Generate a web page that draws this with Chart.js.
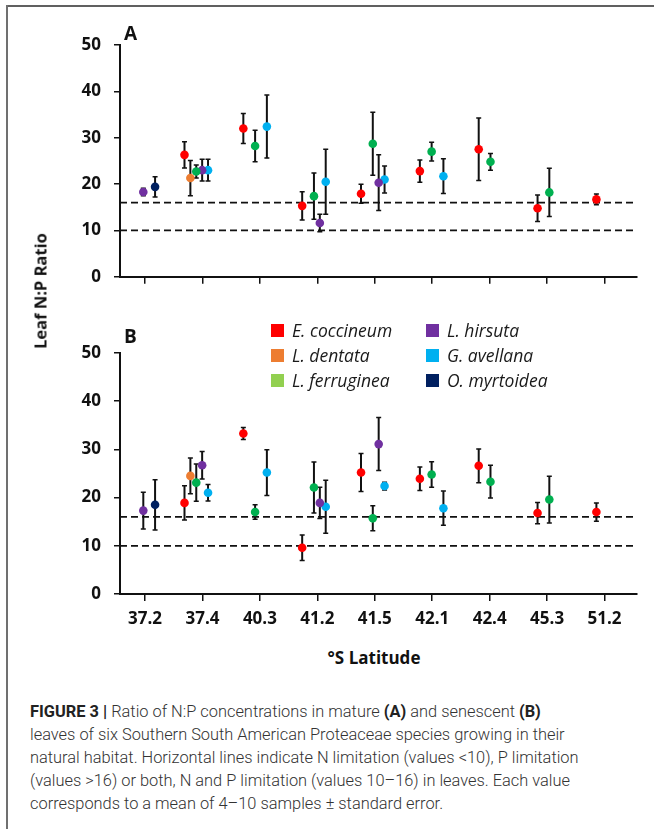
<!DOCTYPE html>
<html>
<head>
<meta charset="utf-8">
<script src="https://cdn.jsdelivr.net/npm/chart.js@4.4.1/dist/chart.umd.min.js"></script>
<style>
  body { margin: 0; background: #fff; }
  #fig { position: relative; width: 654px; height: 829px; overflow: hidden; background: #fff; }
  .frame-top { position: absolute; left: 6px; right: 0; top: 5px; border-top: 2px solid #606060; }
  .frame-left { position: absolute; left: 6px; top: 5px; bottom: 0; border-left: 2px solid #707070; }
  .wrap { position: absolute; left: 0; width: 654px; }
  #wrapA { top: 0; height: 300px; }
  #wrapB { top: 300px; height: 330px; }
  .panel { position: absolute; font: 700 19px "Open Sans", sans-serif; line-height: 20px; color: #111; }
  #ytitle { position: absolute; left: 40px; top: 291px; transform: translate(-50%, -50%) rotate(-90deg);
            font: 700 16.5px "Open Sans", sans-serif; white-space: nowrap; color: #111; }
  #xtitle { position: absolute; left: 374px; top: 657px; transform: translate(-50%, -50%);
            font: 700 17px "Open Sans", sans-serif; white-space: nowrap; color: #111; }
  .lg-box { position: absolute; width: 13px; height: 13px; }
  .lg-text { position: absolute; font: italic 17.5px "Open Sans", sans-serif; line-height: 22px; color: #1a1a1a; white-space: nowrap; }
  #caption { position: absolute; left: 30px; top: 700px; font: 300 16.4px Roboto, sans-serif; line-height: 23px;
             color: #333; white-space: nowrap; }
  #caption b { font-weight: 700; color: #222; }
</style>
</head>
<body>
<div id="fig">
  <div class="frame-top"></div>
  <div class="frame-left"></div>
  <div class="wrap" id="wrapA"><canvas id="chartA" width="654" height="300"></canvas></div>
  <div class="wrap" id="wrapB"><canvas id="chartB" width="654" height="330"></canvas></div>
  <div class="panel" style="left:124px; top:23px;">A</div>
  <div class="panel" style="left:124px; top:326px;">B</div>
  <div id="ytitle">Leaf N:P Ratio</div>
  <div id="xtitle">°S Latitude</div>
  <div id="legend"></div>
  <div id="caption">
    <b>FIGURE 3 |</b> Ratio of N:P concentrations in mature <b>(A)</b> and senescent <b>(B)</b><br>
    leaves of six Southern South American Proteaceae species growing in their<br>
    natural habitat. Horizontal lines indicate N limitation (values &lt;10), P limitation<br>
    (values &gt;16) or both, N and P limitation (values 10–16) in leaves. Each value<br>
    corresponds to a mean of 4–10 samples ± standard error.
  </div>
</div>

<script>
// 緯度（カテゴリ）
const latitudes = ['37.2', '37.4', '40.3', '41.2', '41.5', '42.1', '42.4', '45.3', '51.2'];

const species = ['E. coccineum', 'L. dentata', 'L. ferruginea', 'L. hirsuta', 'G. avellana', 'O. myrtoidea'];
const dotColors = ['#ff0000', '#ed7d31', '#00b050', '#7030a0', '#00b0f0', '#002060'];
const legendColors = ['#ff0000', '#ed7d31', '#92d050', '#7030a0', '#00b0f0', '#002060'];
// 種ごとの横ずらし（カテゴリ単位）
const speciesOffset = [-0.3, -0.2, -0.1, 0, 0.1, 0.2];

// 制限ライン
const limitLines = [10, 16];

// A: 成熟葉 (平均 / 標準誤差)
const matureCoccineum    = [null, 26.3, 32.0, 15.3, 17.9, 22.8, 27.5, 14.8, 16.7];
const matureCoccineumSE  = [null, 2.85, 3.25, 3.05, 2.05, 2.4, 6.75, 2.85, 1.15];
const matureDentata      = [null, 21.3, null, null, null, null, null, null, null];
const matureDentataSE    = [null, 3.8, null, null, null, null, null, null, null];
const matureFerruginea   = [null, 22.7, 28.2, 17.4, 28.7, 27.0, 24.8, 18.2, null];
const matureFerrugineaSE = [null, 1.4, 3.4, 5.0, 6.8, 2.0, 1.8, 5.2, null];
const matureHirsuta      = [18.3, 23.0, null, 11.6, 20.3, null, null, null, null];
const matureHirsutaSE    = [0.8, 2.35, null, 1.9, 6.0, null, null, null, null];
const matureAvellana     = [null, 23.0, 32.4, 20.5, 21.0, 21.7, null, null, null];
const matureAvellanaSE   = [null, 2.35, 6.8, 7.0, 2.9, 3.75, null, null, null];
const matureMyrtoidea    = [19.4, null, null, null, null, null, null, null, null];
const matureMyrtoideaSE  = [2.2, null, null, null, null, null, null, null, null];

// B: 老化葉 (平均 / 標準誤差)
const senescCoccineum    = [null, 18.9, 33.3, 9.6, 25.2, 23.9, 26.6, 16.8, 17.0];
const senescCoccineumSE  = [null, 3.55, 1.25, 2.65, 3.95, 2.45, 3.5, 2.2, 1.9];
const senescDentata      = [null, 24.5, null, null, null, null, null, null, null];
const senescDentataSE    = [null, 3.7, null, null, null, null, null, null, null];
const senescFerruginea   = [null, 23.1, 17.0, 22.1, 15.7, 24.8, 23.3, 19.6, null];
const senescFerrugineaSE = [null, 3.85, 1.5, 5.3, 2.6, 2.65, 3.4, 4.85, null];
const senescHirsuta      = [17.3, 26.7, null, 18.9, 31.1, null, null, null, null];
const senescHirsutaSE    = [3.8, 2.85, null, 3.25, 5.5, null, null, null, null];
const senescAvellana     = [null, 21.0, 25.2, 18.1, 22.4, 17.8, null, null, null];
const senescAvellanaSE   = [null, 1.7, 4.75, 5.5, 0.8, 3.55, null, null, null];
const senescMyrtoidea    = [18.5, null, null, null, null, null, null, null, null];
const senescMyrtoideaSE  = [5.2, null, null, null, null, null, null, null, null];

const matureMeans = [matureCoccineum, matureDentata, matureFerruginea, matureHirsuta, matureAvellana, matureMyrtoidea];
const matureErrors = [matureCoccineumSE, matureDentataSE, matureFerrugineaSE, matureHirsutaSE, matureAvellanaSE, matureMyrtoideaSE];
const senescMeans = [senescCoccineum, senescDentata, senescFerruginea, senescHirsuta, senescAvellana, senescMyrtoidea];
const senescErrors = [senescCoccineumSE, senescDentataSE, senescFerrugineaSE, senescHirsutaSE, senescAvellanaSE, senescMyrtoideaSE];

// 点の軸（ラベル軸とは少しずれている、元図と同じ）
const POINT_MIN = 0.604;
const POINT_MAX = 9.39;
const TICK_MIN = 0.5645;
const TICK_MAX = 9.5645;

const tickFont = { family: 'Open Sans', weight: '700', size: 17 };

// エラーバー描画プラグイン
const errorBars = {
    id: 'errorBars',
    beforeDatasetsDraw(chart) {
        const ctx = chart.ctx;
        const yScale = chart.scales.y;
        chart.data.datasets.forEach((ds, di) => {
            if (!ds.errors) return;
            const meta = chart.getDatasetMeta(di);
            meta.data.forEach((pt, i) => {
                const v = ds.data[i].y;
                const e = ds.errors[i];
                const top = yScale.getPixelForValue(v + e);
                const bot = yScale.getPixelForValue(v - e);
                ctx.save();
                ctx.strokeStyle = '#111';
                ctx.lineWidth = 2;
                ctx.beginPath();
                ctx.moveTo(pt.x, top);
                ctx.lineTo(pt.x, bot);
                ctx.stroke();
                ctx.lineWidth = 1.5;
                ctx.beginPath();
                ctx.moveTo(pt.x - 2.5, top);
                ctx.lineTo(pt.x + 2.5, top);
                ctx.moveTo(pt.x - 2.5, bot);
                ctx.lineTo(pt.x + 2.5, bot);
                ctx.stroke();
                ctx.restore();
            });
        });
    }
};

function buildDatasets(means, errors) {
    const sets = [];
    limitLines.forEach(lim => {
        sets.push({
            type: 'line',
            data: [{ x: POINT_MIN, y: lim }, { x: POINT_MAX, y: lim }],
            borderColor: '#111',
            borderWidth: 1.8,
            borderDash: [7, 4],
            pointRadius: 0,
            xAxisID: 'x2',
            order: 2
        });
    });
    species.forEach((name, s) => {
        const pts = [];
        const se = [];
        means[s].forEach((v, i) => {
            if (v === null) return;
            pts.push({ x: i + 1 + speciesOffset[s], y: v });
            se.push(errors[s][i]);
        });
        sets.push({
            type: 'scatter',
            label: name,
            data: pts,
            errors: se,
            backgroundColor: dotColors[s],
            borderWidth: 0,
            pointRadius: 4.3,
            pointHoverRadius: 4.3,
            xAxisID: 'x2',
            order: 0
        });
    });
    return sets;
}

function makeChart(canvasId, means, errors, padTop, showLabels, xHeight) {
    const ctx = document.getElementById(canvasId).getContext('2d');
    return new Chart(ctx, {
        type: 'scatter',
        data: { datasets: buildDatasets(means, errors) },
        options: {
            responsive: false,
            animation: false,
            layout: { padding: { top: padTop, right: 17, left: 0, bottom: 0 } },
            plugins: { legend: { display: false }, tooltip: { enabled: false } },
            scales: {
                x: {
                    type: 'linear',
                    min: TICK_MIN,
                    max: TICK_MAX,
                    afterBuildTicks: scale => {
                        scale.ticks = latitudes.map((_, i) => ({ value: i + 1 }));
                    },
                    afterFit: scale => { scale.height = xHeight; },
                    ticks: {
                        display: showLabels,
                        autoSkip: false,
                        maxRotation: 0,
                        padding: 8,
                        color: '#111',
                        font: tickFont,
                        callback: value => latitudes[value - 1]
                    },
                    grid: { drawOnChartArea: false, drawTicks: true, tickLength: 7, color: '#111', lineWidth: 1.5 },
                    border: { display: true, color: '#111', width: 2 }
                },
                x2: {
                    type: 'linear',
                    display: false,
                    min: POINT_MIN,
                    max: POINT_MAX
                },
                y: {
                    min: 0,
                    max: 50,
                    afterFit: scale => { scale.width = 120; },
                    ticks: { stepSize: 10, padding: 13, color: '#111', font: tickFont },
                    grid: { drawOnChartArea: false, drawTicks: true, tickLength: 6, color: '#111', lineWidth: 1.5 },
                    border: { display: true, color: '#111', width: 2 }
                }
            }
        },
        plugins: [errorBars]
    });
}

function renderLegend() {
    const fig = document.getElementById('legend');
    species.forEach((name, s) => {
        const col = Math.floor(s / 3);
        const row = s % 3;
        const left = 271 + col * 155;
        const cy = 330.5 + row * 25;
        const box = document.createElement('div');
        box.className = 'lg-box';
        box.style.left = left + 'px';
        box.style.top = (cy - 6.5) + 'px';
        box.style.background = legendColors[s];
        const txt = document.createElement('div');
        txt.className = 'lg-text';
        txt.style.left = (left + 21) + 'px';
        txt.style.top = (cy - 11.5) + 'px';
        txt.textContent = name;
        fig.appendChild(box);
        fig.appendChild(txt);
    });
}

document.fonts.load('700 17px "Open Sans"').then(() => document.fonts.load('italic 17px "Open Sans"')).finally(() => {
    makeChart('chartA', matureMeans, matureErrors, 45, false, 14);
    makeChart('chartB', senescMeans, senescErrors, 53, true, 36);
    renderLegend();
});
</script>
</body>
</html>
